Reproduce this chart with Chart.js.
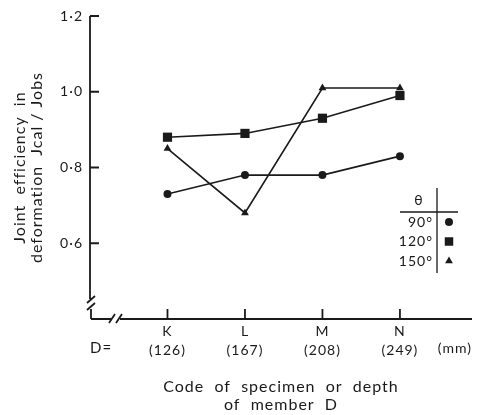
<!DOCTYPE html>
<html>
<head>
<meta charset="utf-8">
<script src="https://cdn.jsdelivr.net/npm/chart.js@4.4.1/dist/chart.umd.min.js"></script>
<style>
  html, body { margin:0; padding:0; background:#fff; }
  #wrap { width:483px; height:415px; }
</style>
</head>
<body>
<div id="wrap"><canvas id="chart"></canvas></div>
<script>
const codes = ["K","L","M","N"];
const depths = ["(126)","(167)","(208)","(249)"];
const eff90 = [0.73,0.78,0.78,0.83];
const eff120 = [0.88,0.89,0.93,0.99];
const eff150 = [0.85,0.68,1.01,1.01];
const yTicks = [0.6,0.8,1.0,1.2];
const angles = ["90°","120°","150°"];

const ink = "#1a1a1a";
const fam = "Lato, 'DejaVu Sans', sans-serif";

const pts = arr => arr.map((v,i)=>({x:i,y:v}));

const sets = [
  {label:angles[0], data:pts(eff90), pointStyle:"circle", pointRadius:4},
  {label:angles[1], data:pts(eff120), pointStyle:"rect", pointRadius:6.5},
  {label:angles[2], data:pts(eff150), pointStyle:"triangle", pointRadius:4.5},
].map(d=>Object.assign(d,{
  borderColor:ink, backgroundColor:ink, borderWidth:1.6,
  pointBorderWidth:0, pointHoverRadius:d.pointRadius, fill:false, tension:0
}));

// axes drawn like the printed figure: inward ticks and // breaks
const paperAxes = {
  id:"paperAxes",
  beforeDraw(chart){ chart.ctx.letterSpacing = "1px"; },
  afterDatasetsDraw(chart){
    const {ctx, chartArea:a, scales:{x,y}} = chart;
    const L = a.left, B = a.bottom, T = y.getPixelForValue(yTicks[yTicks.length-1]);
    ctx.save();
    ctx.strokeStyle = ink; ctx.lineWidth = 1.8;
    ctx.beginPath();
    // y axis
    ctx.moveTo(L, T); ctx.lineTo(L, B-20);
    ctx.moveTo(L-3, B-16); ctx.lineTo(L+5, B-23);
    ctx.moveTo(L-3, B-9); ctx.lineTo(L+5, B-16);
    ctx.moveTo(L+1, B-10); ctx.lineTo(L+1, B);
    // x axis
    ctx.moveTo(L+1, B); ctx.lineTo(L+21, B);
    ctx.moveTo(L+19, B+4); ctx.lineTo(L+25, B-5);
    ctx.moveTo(L+26, B+4); ctx.lineTo(L+32, B-5);
    ctx.moveTo(L+30, B); ctx.lineTo(a.right, B);
    yTicks.forEach(v=>{ const p=y.getPixelForValue(v); ctx.moveTo(L, p); ctx.lineTo(L+9, p); });
    codes.forEach((c,i)=>{ const p=x.getPixelForValue(i); ctx.moveTo(p, B); ctx.lineTo(p, B-10); });
    ctx.stroke();

    ctx.fillStyle = ink;
    ctx.textBaseline = "middle";
    ctx.font = `15px ${fam}`;
    ctx.textAlign = "left"; ctx.fillText("D=", L, 348);
    ctx.font = `14px ${fam}`;
    ctx.textAlign = "right"; ctx.fillText("(mm)", a.right, 348);

    // legend table
    ctx.lineWidth = 1.3;
    ctx.beginPath();
    ctx.moveTo(400, 212); ctx.lineTo(458, 212);
    ctx.moveTo(437, 188); ctx.lineTo(437, 273);
    ctx.stroke();
    ctx.textAlign = "center"; ctx.fillText("θ", 419, 200);
    angles.forEach((t,i)=>{
      const yy = 222 + i*19.5;
      ctx.textAlign = "right"; ctx.fillText(t, 433, yy);
      Chart.helpers.drawPoint(ctx, {pointStyle:sets[i].pointStyle, radius:[4,6,4.5][i], borderWidth:0, rotation:0}, 449, yy);
    });
    ctx.restore();
  }
};

new Chart("chart",{
  type:"line",
  data:{ datasets:sets },
  options:{
    responsive:true, maintainAspectRatio:false, animation:false,
    layout:{padding:{top:16, right:11, left:0, bottom:0}},
    plugins:{ legend:{display:false}, tooltip:{enabled:false} },
    scales:{
      x:{
        type:"linear", min:-1, max:3.93,
        afterBuildTicks:s=>{ s.ticks = codes.map((c,i)=>({value:i})); },
        afterFit:s=>{ s.height = 96; },
        grid:{display:false, drawTicks:false}, border:{display:false},
        ticks:{padding:3, color:ink, autoSkip:false, maxRotation:0,
          font:{family:fam, size:14, lineHeight:1.35},
          callback:v=>[codes[v], depths[v]]},
        title:{display:true, text:["Code  of  specimen  or  depth","of  member  D"],
          color:ink, font:{family:fam, size:16, lineHeight:1.125}, padding:{top:0, bottom:1}}
      },
      y:{
        min:0.4, max:1.2,
        afterBuildTicks:s=>{ s.ticks = yTicks.map(v=>({value:v})); },
        afterFit:s=>{ s.width = 90; },
        grid:{display:false, drawTicks:false}, border:{display:false},
        ticks:{padding:7, color:ink, font:{family:fam, size:14},
          callback:v=>v.toFixed(1).replace(".","·")},
        title:{display:true, text:["Joint  efficiency  in","deformation  Jcal / Jobs"],
          color:ink, font:{family:fam, size:16, lineHeight:1.07}, padding:{top:11, bottom:0}}
      }
    }
  },
  plugins:[paperAxes]
});
</script>
</body>
</html>
